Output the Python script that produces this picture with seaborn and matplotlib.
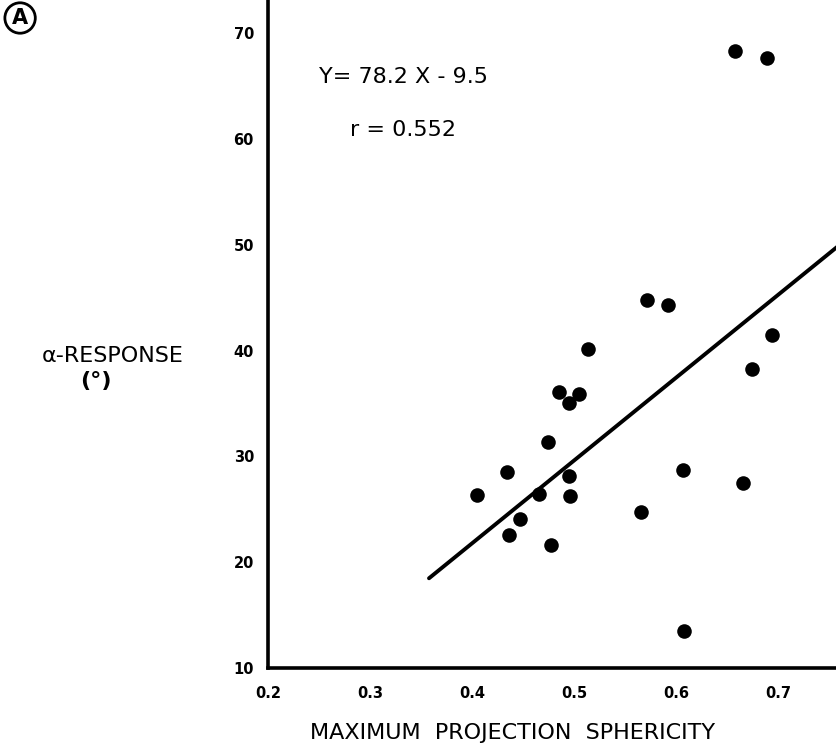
import numpy as np
import pandas as pd
import matplotlib
matplotlib.use("Agg")
import matplotlib.pyplot as plt
import seaborn as sns

# Data
sphericity = [0.405, 0.434, 0.475, 0.466, 0.495, 0.496, 0.447, 0.436, 0.478,
              0.514, 0.485, 0.505, 0.495, 0.572, 0.592, 0.694, 0.658, 0.689,
              0.675, 0.607, 0.666, 0.566, 0.608]
response = [26.4, 28.5, 31.4, 26.5, 28.2, 26.3, 24.1, 22.6, 21.6,
            40.1, 36.1, 35.9, 35.0, 44.8, 44.3, 41.5, 68.3, 67.6,
            38.3, 28.7, 27.5, 24.8, 13.5]
slope = 78.2
intercept = -9.5
line_x = [0.358, 0.76]
x_ticks = [0.2, 0.3, 0.4, 0.5, 0.6, 0.7]
x_tick_labels = ["0.2", "0.3", "0.4", "0.5", "0.6", "0.7"]
y_ticks = [10, 20, 30, 40, 50, 60, 70]

sns.set_style("white")
plt.rcParams['font.family'] = ['DejaVu Sans']
plt.rcParams['text.color'] = 'black'

df = pd.DataFrame({"x": sphericity, "y": response})
line_df = pd.DataFrame({"x": line_x, "y": [slope * v + intercept for v in line_x]})

fig = plt.figure(figsize=(8.37, 7.5), dpi=100)
ax = fig.add_axes([0.320, 0.109, 0.680, 0.891])

sns.scatterplot(data=df, x="x", y="y", ax=ax, color="black", s=110,
                edgecolor="black", linewidth=0, zorder=3)
sns.lineplot(data=line_df, x="x", y="y", ax=ax, color="black", linewidth=2.8,
             zorder=2)

ax.set_xlim(0.2, 0.758)
ax.set_ylim(10, 73.1)
ax.set_xticks(x_ticks)
ax.set_xticklabels(x_tick_labels)
ax.set_yticks(y_ticks)

for side in ["top", "right"]:
    ax.spines[side].set_visible(False)
for side in ["left", "bottom"]:
    ax.spines[side].set_linewidth(2.6)
    ax.spines[side].set_color("black")

ax.tick_params(axis="both", direction="out", length=7, width=2.2,
               colors="black", labelsize=10.5)
ax.tick_params(axis="x", pad=6)
ax.tick_params(axis="y", pad=3)
for lab in ax.get_xticklabels() + ax.get_yticklabels():
    lab.set_fontweight("bold")

ax.set_xlabel("")
ax.set_ylabel("")

fig.text(0.612, 0.023, "MAXIMUM  PROJECTION  SPHERICITY", ha="center",
         va="center", fontsize=16, color="black")
fig.text(0.135, 0.526, "α-RESPONSE", ha="center", va="center", fontsize=16,
         color="black")
fig.text(0.114, 0.492, "(°)", ha="center", va="center", fontsize=16,
         fontweight="bold", color="black")

fig.text(0.482, 0.897, "Y= 78.2 X - 9.5", ha="center", va="center",
         fontsize=16, color="black")
fig.text(0.482, 0.827, "r = 0.552", ha="center", va="center", fontsize=16,
         color="black")

fig.text(0.024, 0.976, "A", ha="center", va="center", fontsize=15,
         fontweight="bold", color="black",
         bbox=dict(boxstyle="circle,pad=0.25", fc="white", ec="black", lw=2))

fig.savefig("out.png", dpi=100, facecolor="white")
